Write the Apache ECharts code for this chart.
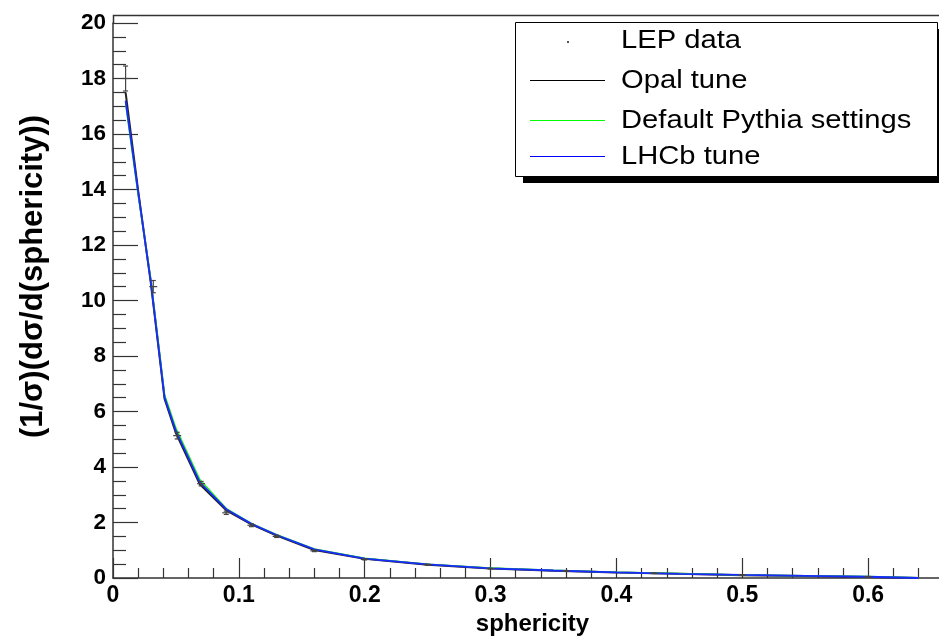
<!DOCTYPE html>
<html>
<head>
<meta charset="utf-8">
<script src="https://cdn.jsdelivr.net/npm/echarts@6/dist/echarts.min.js"></script>
<style>html,body{margin:0;padding:0;background:#fff;}#c{width:939px;height:637px;}</style>
</head>
<body>
<div id="c"></div>
<script>
// Model curves (x = sphericity bin centres)
const modelX   = [0.01, 0.02, 0.03, 0.041, 0.05, 0.069, 0.09, 0.11, 0.13, 0.16, 0.2, 0.25, 0.3, 0.35, 0.4, 0.45, 0.5, 0.55, 0.6, 0.64];
const opalTune = [17.5, 13.95, 10.65, 6.45, 5.22, 3.38, 2.44, 1.93, 1.53, 1.01, 0.69, 0.48, 0.34, 0.26, 0.2, 0.15, 0.1, 0.07, 0.04, 0.0];
const defaultPythia = [17.1, 13.8, 10.8, 6.6, 5.4, 3.55, 2.5, 1.97, 1.56, 1.05, 0.71, 0.5, 0.36, 0.28, 0.21, 0.16, 0.11, 0.08, 0.05, 0.01];
const lhcbTune = [17.2, 13.9, 10.7, 6.5, 5.3, 3.45, 2.48, 1.95, 1.55, 1.03, 0.7, 0.49, 0.35, 0.27, 0.2, 0.15, 0.11, 0.08, 0.045, 0.0];
// LEP data points with errors
const lepX   = [0.01, 0.032, 0.051, 0.07, 0.09, 0.11, 0.13, 0.16, 0.2, 0.25, 0.3, 0.36, 0.43, 0.5, 0.6];
const lepY   = [18.0, 10.5, 5.13, 3.4, 2.35, 1.9, 1.5, 0.98, 0.67, 0.48, 0.34, 0.25, 0.17, 0.11, 0.045];
const lepErr = [0.45, 0.22, 0.12, 0.08, 0.06, 0.05, 0.04, 0.03, 0.02, 0.02, 0.01, 0.01, 0.01, 0.01, 0.01];
// Axis ticks
const xTicks = {min: 0, max: 0.7, interval: 0.1};
const yTicks = {min: 0, max: 20, interval: 2};
const legendNames = ['LEP data', 'Opal tune', 'Default Pythia settings', 'LHCb tune'];

const zip = (xs, ys) => xs.map((x, i) => [x, ys[i]]);
const axisCol = '#333';
const chart = echarts.init(document.getElementById('c'), null, {renderer: 'canvas'});

const legendFont = '25.6px "Liberation Sans", Arial, sans-serif';
const legendRowsY = [41, 81, 121, 157];
const legendLineCols = [null, '#000000', '#00ff00', '#0000ff'];

const graphics = [
  {type: 'polyline', shape: {points: [[113.5, 24], [113.5, 15.5], [945, 15.5]]}, style: {stroke: axisCol, lineWidth: 1.5, fill: null}, z: 50},
  {type: 'rect', shape: {x: 523, y: 29, width: 422, height: 154}, style: {fill: '#000'}, z: 60},
  {type: 'rect', shape: {x: 515.5, y: 22.5, width: 422, height: 154}, style: {fill: '#fff', stroke: '#000', lineWidth: 1}, z: 61},
  {type: 'rect', shape: {x: 567, y: 41, width: 2, height: 2}, style: {fill: '#555'}, z: 62}
];
legendNames.forEach((n, i) => {
  if (legendLineCols[i]) {
    graphics.push({type: 'line', shape: {x1: 530, y1: legendRowsY[i] - 0.5, x2: 605, y2: legendRowsY[i] - 0.5}, style: {stroke: legendLineCols[i], lineWidth: 1.2}, z: 62});
  }
  graphics.push({type: 'text', x: 621, y: legendRowsY[i], scaleX: 1.14, style: {text: n, font: legendFont, fill: '#000', align: 'left', verticalAlign: 'middle'}, z: 62});
});

chart.setOption({
  animation: false,
  backgroundColor: '#fff',
  grid: {left: 113, top: 23, bottom: 59, right: -55, containLabel: false, outerBoundsMode: 'none'},
  xAxis: {
    type: 'value', min: xTicks.min, max: xTicks.max, interval: xTicks.interval,
    name: 'sphericity', nameLocation: 'middle', nameGap: 31,
    nameTextStyle: {fontFamily: 'Liberation Sans', fontWeight: 'bold', fontSize: 24, color: '#000', padding: [0, 42, 0, 0]},
    axisLine: {lineStyle: {color: axisCol, width: 1.5}},
    axisTick: {inside: true, length: 20, lineStyle: {color: axisCol, width: 1.2}},
    minorTick: {show: true, splitNumber: 5, length: 10, lineStyle: {color: axisCol, width: 1.2}},
    splitLine: {show: false},
    axisLabel: {fontFamily: 'Liberation Sans', fontWeight: 'bold', fontSize: 23, color: '#000', margin: 6,
      formatter: v => String(+v.toFixed(2))}
  },
  yAxis: {
    type: 'value', min: yTicks.min, max: yTicks.max, interval: yTicks.interval,
    name: '(1/σ)(dσ/d(sphericity))', nameLocation: 'middle', nameGap: 64,
    nameTextStyle: {fontFamily: 'Liberation Sans', fontWeight: 'bold', fontSize: 31, color: '#000', padding: [0, 0, 0, 48]},
    axisLine: {lineStyle: {color: axisCol, width: 1.5}},
    axisTick: {inside: true, length: 25, lineStyle: {color: axisCol, width: 1.2}},
    minorTick: {show: true, splitNumber: 4, length: 13, lineStyle: {color: axisCol, width: 1.2}},
    splitLine: {show: false},
    axisLabel: {fontFamily: 'Liberation Sans', fontWeight: 'bold', fontSize: 22.5, color: '#000', margin: 7}
  },
  graphic: graphics,
  series: [
    {
      name: 'LEP data', type: 'custom', z: 5,
      data: lepX.map((x, i) => [x, lepY[i], lepErr[i]]),
      renderItem: (params, api) => {
        const x = api.value(0), y = api.value(1), e = api.value(2);
        const c = api.coord([x, y]);
        const hi = api.coord([x, y + e]);
        const lo = api.coord([x, y - e]);
        const st = {stroke: '#444', lineWidth: 1.2};
        return {type: 'group', children: [
          {type: 'line', shape: {x1: c[0], y1: hi[1], x2: c[0], y2: lo[1]}, style: st},
          {type: 'line', shape: {x1: c[0] - 2.5, y1: hi[1], x2: c[0] + 2.5, y2: hi[1]}, style: st},
          {type: 'line', shape: {x1: c[0] - 2.5, y1: lo[1], x2: c[0] + 2.5, y2: lo[1]}, style: st},
          {type: 'line', shape: {x1: c[0] - 4, y1: c[1], x2: c[0] + 4, y2: c[1]}, style: st}
        ]};
      }
    },
    {name: 'Opal tune', type: 'line', data: zip(modelX, opalTune), symbol: 'none', z: 2,
      lineStyle: {color: '#222', width: 2}},
    {name: 'Default Pythia settings', type: 'line', data: zip(modelX, defaultPythia), symbol: 'none', z: 3,
      lineStyle: {color: '#22ee22', width: 1.5}},
    {name: 'LHCb tune', type: 'line', data: zip(modelX, lhcbTune), symbol: 'none', z: 4,
      lineStyle: {color: '#1a2aff', width: 1.8}}
  ]
});
</script>
</body>
</html>
